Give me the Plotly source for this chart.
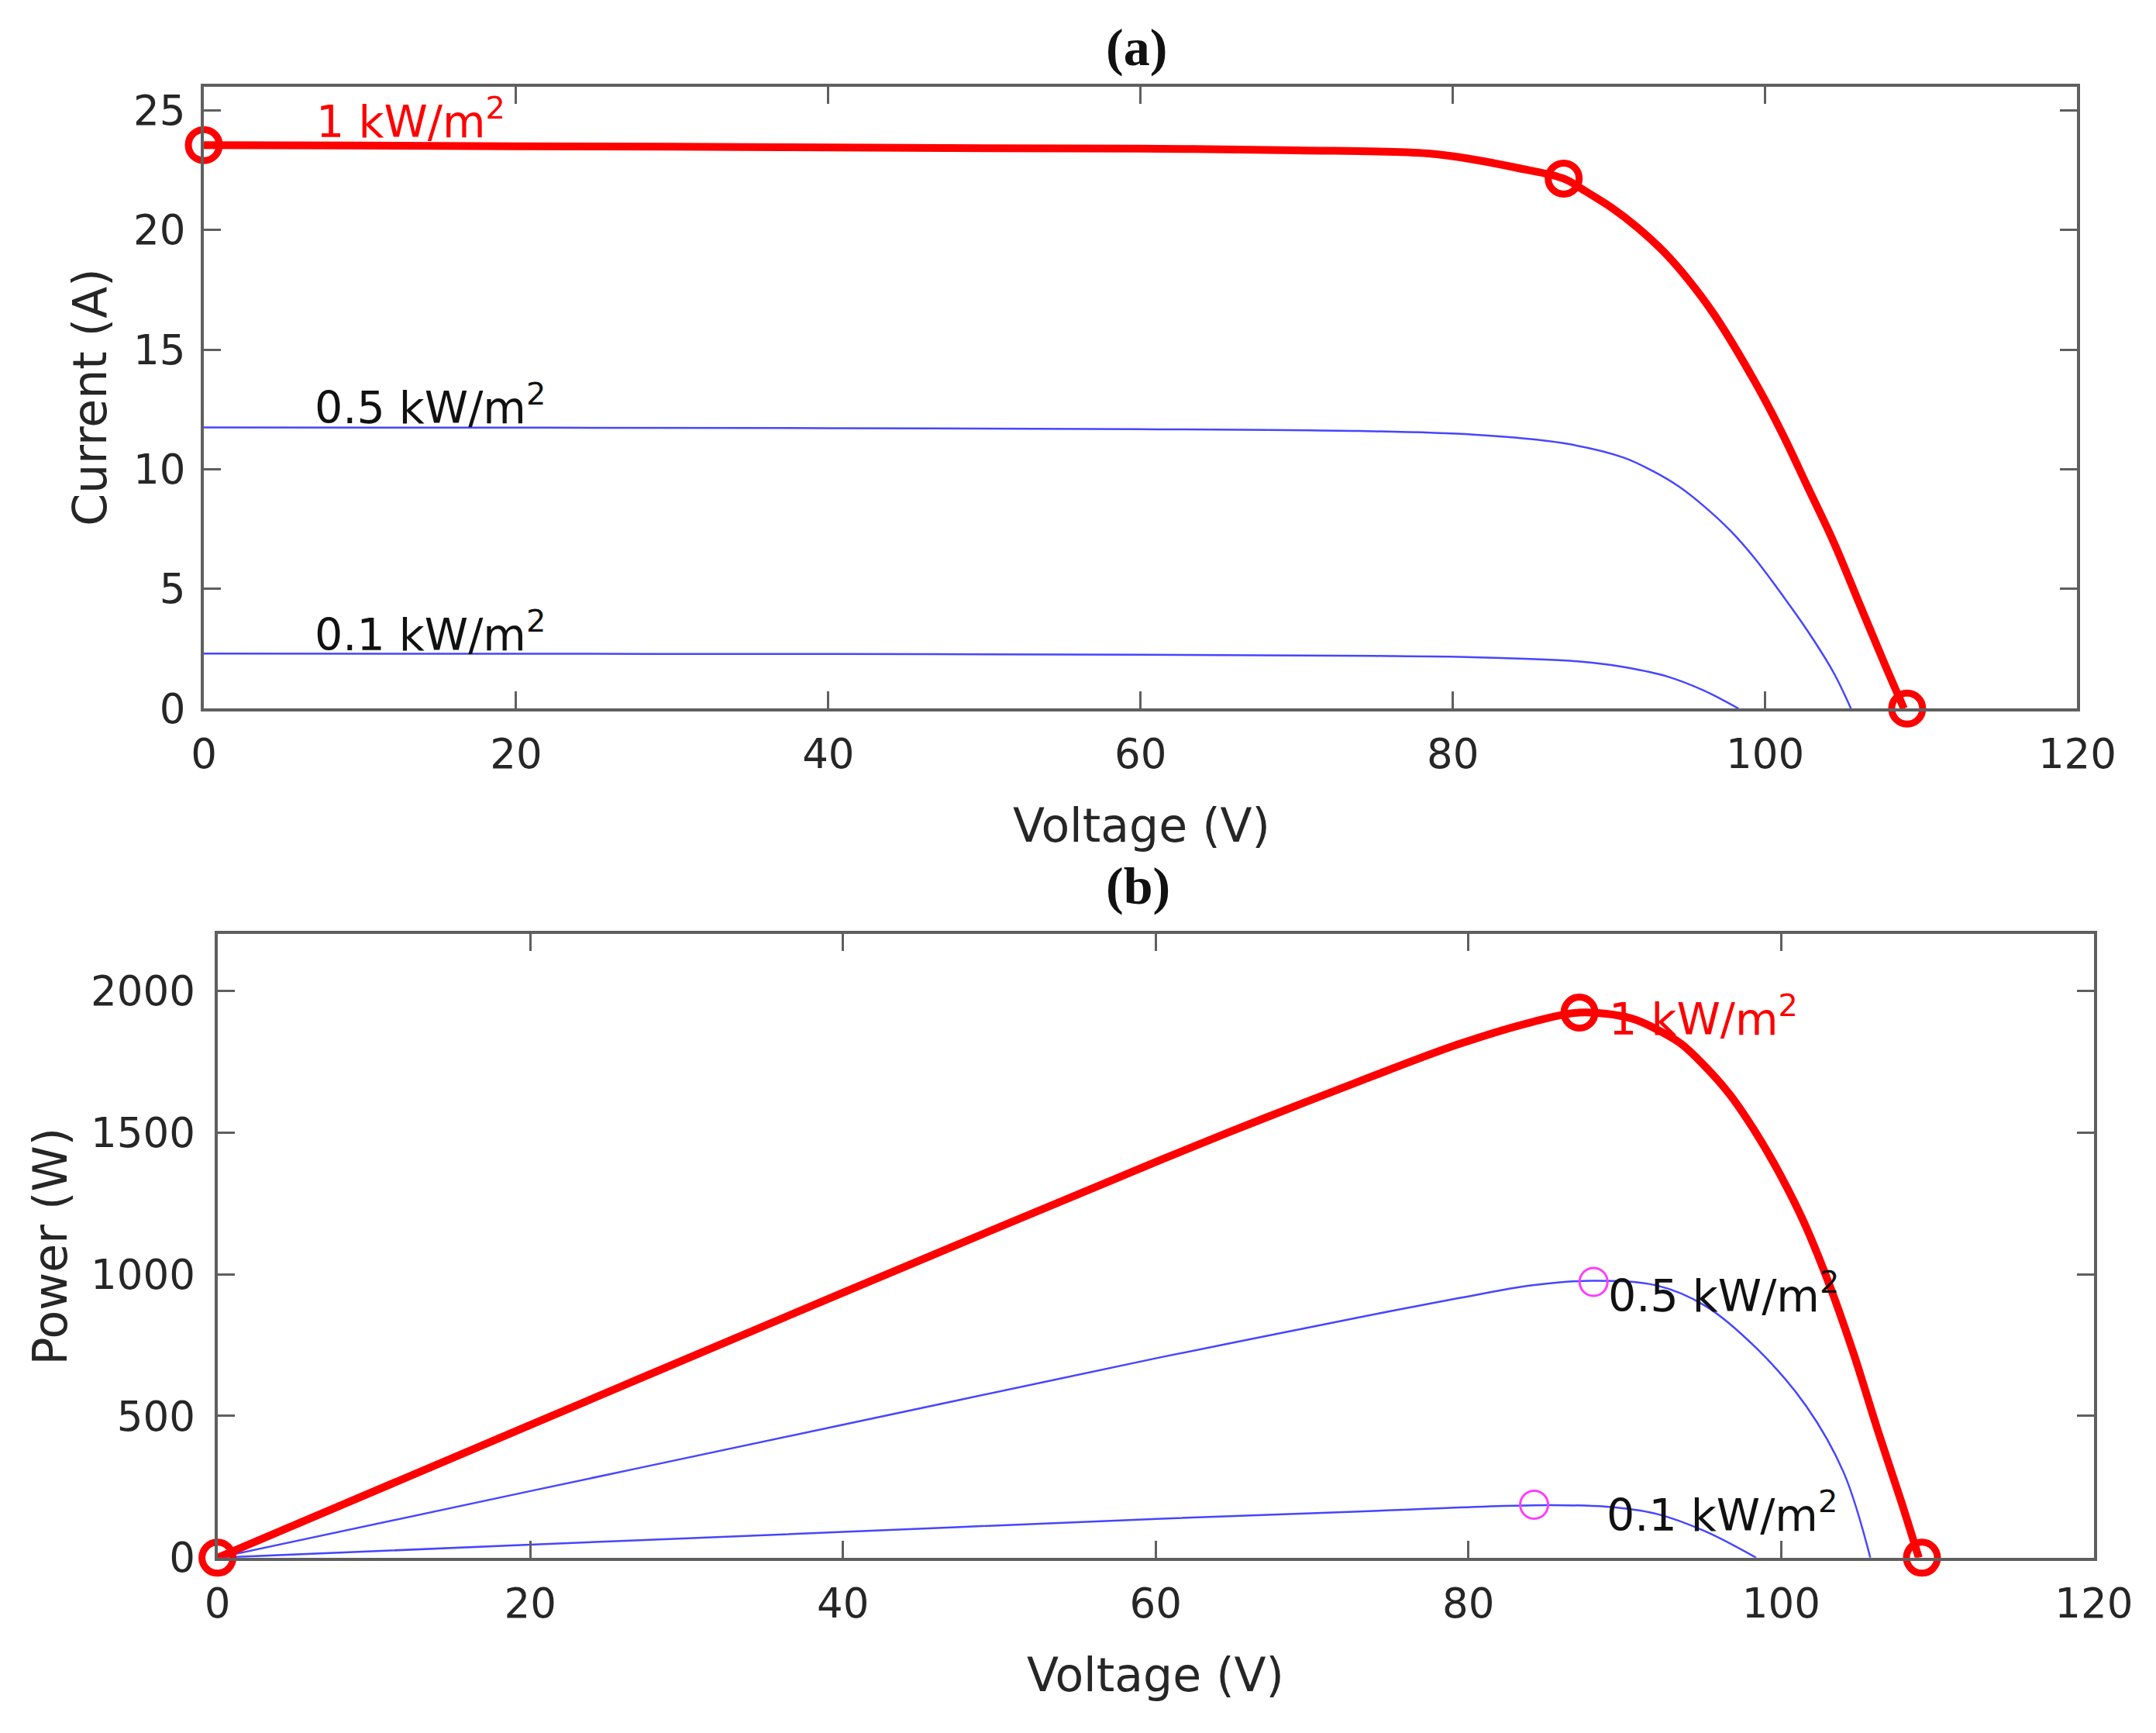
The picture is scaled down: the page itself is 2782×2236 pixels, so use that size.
import plotly.graph_objects as go

# ---- data ----
# (a) I-V curves, voltage in V, current in A
v_iv_1000 = [0, 10, 20, 30, 40, 50, 60, 70, 78.4, 81.3, 84.1, 87.1, 88.5, 90.2, 91.8, 93.5, 95.1, 96.8, 99.4,
             101.1, 102.7, 104.4, 106.0, 107.7, 108.9]
i_iv_1000 = [23.55, 23.53, 23.5, 23.48, 23.45, 23.42, 23.4, 23.33, 23.2, 22.95, 22.6, 22.15, 21.62, 20.92, 20.12,
             19.1, 17.91, 16.41, 13.6, 11.5, 9.3, 6.95, 4.45, 1.8, 0]

v_iv_500 = [0, 20, 40, 60, 74, 81.3, 87.0, 90.9, 92.8, 94.5, 96.1, 97.8, 99.4, 101.1, 102.7, 104.4, 105.5]
i_iv_500 = [11.75, 11.74, 11.72, 11.68, 11.6, 11.45, 11.1, 10.5, 9.93, 9.27, 8.45, 7.42, 6.23, 4.75, 3.27, 1.49, 0]

v_iv_100 = [0, 20, 40, 60, 75, 81.3, 87.0, 88.9, 91.2, 93.7, 96.1, 98.3]
i_iv_100 = [2.3, 2.29, 2.28, 2.25, 2.2, 2.15, 2.02, 1.92, 1.71, 1.35, 0.75, 0]

# marked points on the 1 kW/m2 I-V curve (Isc, MPP, Voc)
v_iv_mark = [0, 87.1, 109.1]
i_iv_mark = [23.55, 22.15, 0]

# (b) P-V curves, power in W
v_pv_1000 = [0, 20, 40, 60.4, 66.7, 73.0, 79.4, 84.1, 87.1, 90.4, 92.0, 93.6, 95.1, 96.7, 98.2, 99.6, 101.4,
             103.0, 104.6, 106.2, 107.7, 108.8]
p_pv_1000 = [0, 468, 935, 1405, 1545, 1680, 1812, 1890, 1923, 1903, 1865, 1813, 1735, 1635, 1515, 1385, 1190,
             975, 725, 445, 194, 0]

v_pv_500 = [0, 20, 40, 60.4, 66.7, 73.0, 79.4, 84.1, 87.9, 92.0, 95.1, 98.4, 101.6, 104.0, 105.7]
p_pv_500 = [0, 235, 469, 708, 778, 848, 916, 961, 977, 961, 890, 740, 535, 300, 0]

v_pv_100 = [0, 20, 40, 60.4, 73.0, 84.2, 88.8, 92.0, 95.1, 98.4]
p_pv_100 = [0, 46, 91, 138, 163, 185, 180, 155, 94, 0]

v_pv_mark = [0, 87.1, 109.0]
p_pv_mark = [0, 1923, 0]

v_mpp_low = [88.0, 84.2]
p_mpp_low = [973, 187]

x_ticks = [0, 20, 40, 60, 80, 100, 120]
i_ticks = [0, 5, 10, 15, 20, 25]
p_ticks = [0, 500, 1000, 1500, 2000]

RED = "#ff0000"
BLUE = "rgb(70,70,255)"
MAGENTA = "rgb(255,60,255)"
AXC = "#5f5f5f"
TXT = "#262626"
FONT = "DejaVu Sans"
W, H = 2782, 2236

fig = go.Figure()


def line(x, y, color, width, xa, ya):
    return go.Scatter(x=x, y=y, mode="lines", xaxis=xa, yaxis=ya,
                      line=dict(color=color, width=width, shape="spline", smoothing=1.0))


def rings(x, y, color, size, width, xa, ya):
    return go.Scatter(x=x, y=y, mode="markers", cliponaxis=False, xaxis=xa, yaxis=ya,
                      marker=dict(symbol="circle-open", size=size, color=color, line=dict(color=color, width=width)))


# I-V
fig.add_trace(line(v_iv_500, i_iv_500, BLUE, 2.5, "x", "y"))
fig.add_trace(line(v_iv_100, i_iv_100, BLUE, 2.5, "x", "y"))
fig.add_trace(line(v_iv_1000, i_iv_1000, RED, 10, "x", "y"))
fig.add_trace(rings(v_iv_mark, i_iv_mark, RED, 40, 9, "x", "y"))

# P-V
fig.add_trace(line(v_pv_500, p_pv_500, BLUE, 2.5, "x2", "y2"))
fig.add_trace(line(v_pv_100, p_pv_100, BLUE, 2.5, "x2", "y2"))
fig.add_trace(line(v_pv_1000, p_pv_1000, RED, 10, "x2", "y2"))
fig.add_trace(rings(v_pv_mark, p_pv_mark, RED, 40, 9, "x2", "y2"))
fig.add_trace(rings(v_mpp_low, p_mpp_low, MAGENTA, 36, 3, "x2", "y2"))

axis_common = dict(showgrid=False, zeroline=False, showline=True, linecolor=AXC, linewidth=4,
                   ticks="inside", ticklen=22, tickwidth=3, tickcolor=AXC, mirror="ticks",
                   tickfont=dict(family=FONT, size=53, color=TXT))

fig.update_layout(
    width=W, height=H,
    margin=dict(l=0, r=0, t=0, b=0),
    paper_bgcolor="white", plot_bgcolor="white",
    showlegend=False,
    xaxis=dict(domain=[244 / W, 2722 / W], range=[0, 120], tickvals=x_ticks, anchor="y", ticklabelstandoff=9, **axis_common),
    yaxis=dict(domain=[1 - 919 / H, 1 - 105 / H], range=[0, 26], tickvals=i_ticks, anchor="x", ticklabelstandoff=9, **axis_common),
    xaxis2=dict(domain=[262 / W, 2744 / W], range=[0, 120], tickvals=x_ticks, anchor="y2", ticklabelstandoff=10, **axis_common),
    yaxis2=dict(domain=[1 - 2030 / H, 1 - 1214 / H], range=[0, 2200], tickvals=p_ticks, anchor="x2", ticklabelstandoff=14, **axis_common),
)

title_font = dict(family=FONT, size=60, color=TXT)
lab_font = dict(family=FONT, size=57, color="#111111")
red_font = dict(family=FONT, size=57, color=RED)
panel_font = dict(family="Liberation Serif", size=68, color="#111111")


def paper_text(text, x, y, font, angle=0):
    return dict(text=text, x=x / W, y=1 - y / H, xref="paper", yref="paper", showarrow=False,
                textangle=angle, font=font, xanchor="center", yanchor="middle")


def data_text(text, x, y, font, xa, ya):
    return dict(text=text, x=x, y=y, xref=xa, yref=ya, showarrow=False, font=font,
                xanchor="left", yanchor="middle")


annotations = [
    paper_text("<b>(a)</b>", 1478, 54, panel_font),
    paper_text("<b>(b)</b>", 1480, 1151, panel_font),
    paper_text("Current (A)", 93, 512, title_font, -90),
    paper_text("Voltage (V)", 1484, 1072, title_font),
    paper_text("Power (W)", 41, 1622, title_font, -90),
    paper_text("Voltage (V)", 1503, 2183, title_font),
    data_text("1 kW/m<sup>2</sup>", 7.1, 24.65, red_font, "x", "y"),
    data_text("0.5 kW/m<sup>2</sup>", 7.0, 12.7, lab_font, "x", "y"),
    data_text("0.1 kW/m<sup>2</sup>", 7.0, 3.2, lab_font, "x", "y"),
    data_text("1 kW/m<sup>2</sup>", 88.9, 1910, red_font, "x2", "y2"),
    data_text("0.5 kW/m<sup>2</sup>", 88.85, 935, lab_font, "x2", "y2"),
    data_text("0.1 kW/m<sup>2</sup>", 88.75, 160, lab_font, "x2", "y2"),
]
fig.update_layout(annotations=annotations)

fig.write_html("out.html")
